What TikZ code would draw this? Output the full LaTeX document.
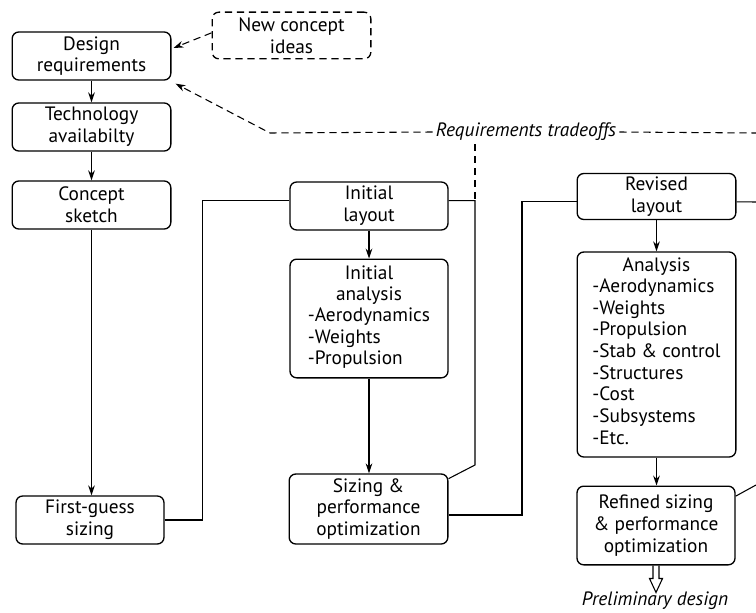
\documentclass[tikz,border=0pt]{standalone}
\usepackage{fontspec}
\setmainfont{PT Sans}
\usetikzlibrary{arrows.meta}
\newcommand\boxfont{\fontsize{14.5}{16.3}\selectfont}

\begin{document}
\begin{tikzpicture}[x=0.75pt,y=-0.75pt,>={Stealth[length=7.5pt,width=5pt]},
    line width=0.8pt,
    stage/.style={draw,line width=1pt,rounded corners=5pt,align=center,inner sep=0pt,
      font=\boxfont,minimum width=119pt,minimum height=36pt},
    dashline/.style={dash pattern=on 5.5pt off 3.5pt}]
  \useasboundingbox (0,0) rectangle (756,613);
  % left column
  \node[stage] (req) at (91.5,56) {Design\\requirements};
  \node[stage,dashline,minimum height=35pt] (ideas) at (291.5,35.5) {New concept\\ideas};
  \node[stage] (tech) at (91.5,127) {Technology\\availabilty};
  \node[stage] (sketch) at (91.5,205) {Concept\\sketch};
  \node[stage,minimum width=111pt] (guess) at (90,520) {First-guess\\sizing};
  % middle column
  \node[stage,minimum width=118.5pt] (layout) at (369,206) {Initial\\layout};
  \node[stage,minimum width=118.5pt,minimum height=89pt] (ianalysis) at (369,318.5)
    {Initial\\analysis\\\begin{tabular}{@{}l@{}}-Aerodynamics\\-Weights\\-Propulsion\end{tabular}};
  \node[stage,minimum height=52.5pt] (sizing) at (368.5,509) {Sizing \&\\performance\\optimization};
  % right column
  \node[stage,minimum height=34.5pt] (revlayout) at (656.5,196.5) {Revised\\layout};
  \node[stage,minimum height=153.75pt] (analysis) at (656.5,354.5)
    {Analysis\\\begin{tabular}{@{}l@{}}-Aerodynamics\\-Weights\\-Propulsion\\-Stab \& control\\
      -Structures\\-Cost\\-Subsystems\\-Etc.\end{tabular}};
  \node[stage,minimum width=118.5pt,minimum height=59pt] (refined) at (656,525.5)
    {Refined sizing\\\& performance\\optimization};
  \node[font=\boxfont\itshape,inner sep=1pt] (prelim) at (655,601) {Preliminary design};
  \node[font=\boxfont\itshape,inner sep=2pt] (trade) at (526,132) {Requirements tradeoffs};
  % free ends and bends
  \coordinate (kink) at (270,133);
  \coordinate (tradeR) at (756,133);
  \coordinate (up1) at (475,465);
  \coordinate (up2) at (522,515);
  \coordinate (outL) at (756,202);
  \coordinate (outD) at (756,485);

  \draw[->] (req) -- (tech);
  \draw[->] (tech) -- (sketch);
  \draw[->] (sketch.south) -- (sketch.south |- guess.north);
  \draw (guess.east) -- ++(38,0) |- ([yshift=4pt]layout.west);
  \draw[->] (layout) -- (ianalysis);
  \draw[->] (ianalysis.south) -- (ianalysis.south |- sizing.north);
  \draw ([yshift=4pt]layout.east) -| (up1) -- ([yshift=-4pt]sizing.north east);
  \draw ([yshift=-4.5pt]sizing.east) -- (up2) |- ([yshift=-4pt]revlayout.west);
  \draw ([yshift=-4pt]revlayout.east) -- (outL);
  \draw[->] (revlayout) -- (analysis);
  \draw[->] (analysis.south) -- (analysis.south |- refined.north);
  \draw ([yshift=-8pt]refined.north east) -- (outD);
  \draw (refined.south) ++(-3,0) -- ++(0,13) -- ++(-3.5,0) -- ++(6.5,14)
    -- ++(6.5,-14) -- ++(-3.5,0) -- ++(0,-13);
  % tradeoff loops
  \draw[dashline,->] ([yshift=2pt]ideas.west) -- ([shift={(2,-8)}]req.east);
  \draw[dashline,->] (trade.west) -- (kink) -- ([shift={(4,3)}]req.south east);
  \draw[dashline] (trade.east) -- (tradeR);
  \draw[dashline] (trade.south -| up1) -- ([yshift=4pt]layout.east -| up1);
\end{tikzpicture}
\end{document}
